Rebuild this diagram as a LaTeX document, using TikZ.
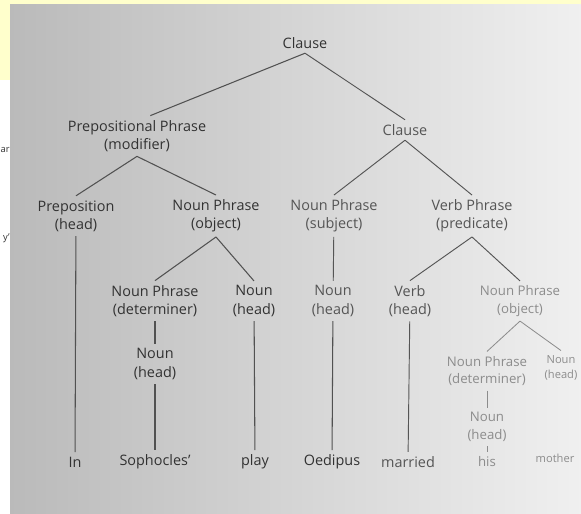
\documentclass[tikz,border=0pt]{standalone}
\usepackage{fontspec}
\setmainfont{Open Sans}
\definecolor{note}{RGB}{255,255,204}
\definecolor{inkdark}{RGB}{50,50,50}
\definecolor{inkmid}{RGB}{85,85,85}
\definecolor{inkfaint}{RGB}{140,140,140}
\begin{document}
\begin{tikzpicture}[x=0.03cm, y=-0.03cm,
    tag/.style={align=center, font=\fontsize{12.3}{15.5}\selectfont, inner sep=1pt, outer sep=3pt},
    dark/.style={tag, text=inkdark},
    mid/.style={tag, text=inkmid},
    faint/.style={tag, text=inkfaint, font=\fontsize{11.3}{15}\selectfont},
    small/.style={tag, text=inkfaint, font=\fontsize{9.5}{13.5}\selectfont},
    branchdark/.style={draw=inkdark!85, line width=0.9pt},
    branchmid/.style={draw=inkmid, line width=0.8pt},
    branchfaint/.style={draw=inkfaint, line width=0.7pt}]
    % 背景（写真の紙面）
    \useasboundingbox (0,0) rectangle (581,514);
    \fill[white] (0,0) rectangle (581,514);
    \shade[left color=black!27, middle color=black!17, right color=black!6] (10,4) rectangle (581,514);
    \fill[note] (0,0) rectangle (581,4);
    \fill[note] (0,0) rectangle (10,80);
    % 隣のページの文字
    \node[text=inkdark, font=\fontsize{8}{9}\selectfont, anchor=east, inner sep=0pt] (edgeA) at (10,150) {ar};
    \node[text=inkdark, font=\fontsize{8}{9}\selectfont, anchor=east, inner sep=0pt] (edgeB) at (10,238) {y'};
    % 節
    \node[dark] (clause) at (305,43) {Clause};
    \node[dark] (ppmod) at (137,136) {Prepositional Phrase\\(modifier)};
    \node[mid] (clause2) at (405,130) {Clause};
    % 第二段
    \node[dark] (prephead) at (76,216) {Preposition\\(head)};
    \node[dark] (npobj) at (216,216) {Noun Phrase\\(object)};
    \node[mid] (npsubj) at (334,216) {Noun Phrase\\(subject)};
    \node[mid] (vppred) at (472,216) {Verb Phrase\\(predicate)};
    % 第三段
    \node[dark] (npdet) at (155,301) {Noun Phrase\\(determiner)};
    \node[dark] (nounplay) at (254,301) {Noun\\(head)};
    \node[mid] (nounsubj) at (333,301) {Noun\\(head)};
    \node[mid] (verbhead) at (410,301) {Verb\\(head)};
    \node[faint] (npobj2) at (520,301) {Noun Phrase\\(object)};
    % 第四段
    \node[dark] (nounsoph) at (155,364) {Noun\\(head)};
    \node[faint] (npdet2) at (487,371) {Noun Phrase\\(determiner)};
    \node[small] (nounmother) at (561,368) {Noun\\(head)};
    \node[faint] (nounhis) at (487,427) {Noun\\(head)};
    % 語
    \node[dark] (wIn) at (75,462) {In};
    \node[dark] (wSoph) at (155,462) {Sophocles'};
    \node[dark] (wPlay) at (255,462) {play};
    \node[dark] (wOed) at (332,462) {Oedipus};
    \node[mid] (wMar) at (408,462) {married};
    \node[faint] (wHis) at (487,462) {his};
    \node[small] (wMother) at (555,458) {mother};
    % 枝
    \draw[branchdark] (clause.south) -- ([xshift=0.4cm]ppmod.north);
    \draw[branchmid] (clause.south) -- (clause2.north);
    \draw[branchdark] (ppmod.south) -- (prephead.north);
    \draw[branchdark] (ppmod.south) -- (npobj.north);
    \draw[branchmid] (clause2.south) -- (npsubj.north);
    \draw[branchmid] (clause2.south) -- (vppred.north);
    \draw[branchdark] (npobj.south) -- (npdet.north);
    \draw[branchdark] (npobj.south) -- (nounplay.north);
    \draw[branchmid] (vppred.south) -- (verbhead.north);
    \draw[branchmid] (vppred.south) -- (npobj2.north);
    \draw[branchfaint] (npobj2.south) -- (npdet2.north);
    \draw[branchfaint] (npobj2.south) -- (nounmother.north);
    % 縦の枝
    \draw[branchdark] (prephead) -- (wIn);
    \draw[branchdark] (npdet) -- (nounsoph);
    \draw[branchdark] (nounsoph) -- (wSoph);
    \draw[branchdark] (nounplay) -- (wPlay);
    \draw[branchmid] (npsubj) -- (nounsubj);
    \draw[branchdark] (nounsubj) -- (wOed);
    \draw[branchmid] (verbhead) -- (wMar);
    \draw[branchfaint] (npdet2) -- (nounhis);
    \draw[branchfaint] (nounhis) -- (wHis);
\end{tikzpicture}
\end{document}
